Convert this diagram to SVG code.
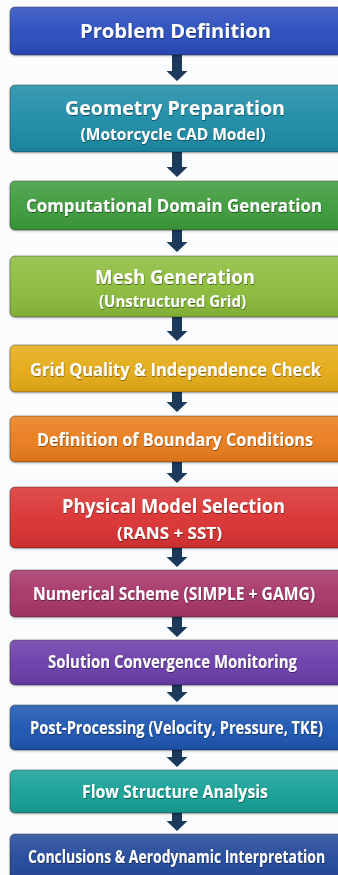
<svg xmlns="http://www.w3.org/2000/svg" width="338" height="875" viewBox="0 0 338 875">
  <defs>
    <linearGradient id="gloss" x1="0" y1="0" x2="0" y2="1">
      <stop offset="0" stop-color="#ffffff" stop-opacity="0.14"/>
      <stop offset="0.5" stop-color="#ffffff" stop-opacity="0.04"/>
      <stop offset="1" stop-color="#000000" stop-opacity="0.08"/>
    </linearGradient>
    <filter id="txtShadow" x="-5%" y="-30%" width="110%" height="160%">
      <feDropShadow dx="0.6" dy="1" stdDeviation="0.7" flood-color="#000000" flood-opacity="0.45"/>
    </filter>
    <filter id="boxShadow" x="-5%" y="-20%" width="110%" height="150%">
      <feDropShadow dx="0" dy="1" stdDeviation="0.8" flood-color="#000000" flood-opacity="0.25"/>
    </filter>
  </defs>
  <style>
    .bg { fill: #fbfcfd; }
    .box { stroke: #000000; stroke-opacity: 0.35; stroke-width: 1; filter: url(#boxShadow); }
    .sheen { fill: url(#gloss); }
    text { font-family: "Open Sans", "Liberation Sans", sans-serif; font-weight: 700; fill: #ffffff; text-anchor: middle; filter: url(#txtShadow); }
    .t1 { font-size: 19.5px; }
    .t2 { font-size: 17.5px; }
    .sub { font-size: 16px; }
    .arrow { fill: #1b3a5c; }
  </style>

  <rect class="bg" x="0" y="0" width="338" height="875"/>

  <!-- connectors -->
  <g id="connectors">
    <path class="arrow" d="M172 55 H182 V71 H187.5 L177 81 L166.5 71 H172 Z"/>
    <path class="arrow" d="M172 152 H182 V167 H187.5 L177 177 L166.5 167 H172 Z"/>
    <path class="arrow" d="M172 230 H182 V242 H187.5 L177 252 L166.5 242 H172 Z"/>
    <path class="arrow" d="M172 317 H182 V331 H187.5 L177 341 L166.5 331 H172 Z"/>
    <path class="arrow" d="M172 392 H182 V402 H187.5 L177 412 L166.5 402 H172 Z"/>
    <path class="arrow" d="M172 462 H182 V473 H187.5 L177 483 L166.5 473 H172 Z"/>
    <path class="arrow" d="M172 548 H182 V557 H187.5 L177 567 L166.5 557 H172 Z"/>
    <path class="arrow" d="M172 617 H182 V627 H187.5 L177 637 L166.5 627 H172 Z"/>
    <path class="arrow" d="M172 685 H182 V692 H187.5 L177 702 L166.5 692 H172 Z"/>
    <path class="arrow" d="M172 750 H182 V757 H187.5 L177 767 L166.5 757 H172 Z"/>
    <path class="arrow" d="M172 813 H182 V821 H187.5 L177 831 L166.5 821 H172 Z"/>
  </g>

  <!-- labels are drawn at 78% horizontal scale for a condensed face -->
  <g id="problem-definition">
    <rect class="box" x="10" y="7" width="334" height="48" rx="5" fill="#2a4dbd"/>
    <rect class="sheen" x="10" y="7" width="334" height="48" rx="5"/>
    <g transform="translate(175.5 38) scale(0.78 1)"><text class="t1" x="0" y="0" textLength="245" lengthAdjust="spacingAndGlyphs">Problem Definition</text></g>
  </g>

  <g id="geometry-preparation">
    <rect class="box" x="10" y="85" width="334" height="67" rx="5" fill="#1a8ca6"/>
    <rect class="sheen" x="10" y="85" width="334" height="67" rx="5"/>
    <g transform="translate(175 115) scale(0.78 1)"><text class="t1" x="0" y="0" textLength="282" lengthAdjust="spacingAndGlyphs">Geometry Preparation</text></g>
    <g transform="translate(173 139.5) scale(0.78 1)"><text class="sub" x="0" y="0" textLength="237" lengthAdjust="spacingAndGlyphs">(Motorcycle CAD Model)</text></g>
  </g>

  <g id="computational-domain">
    <rect class="box" x="10" y="181" width="334" height="49" rx="5" fill="#3d9b3b"/>
    <rect class="sheen" x="10" y="181" width="334" height="49" rx="5"/>
    <g transform="translate(174 212) scale(0.78 1)"><text class="t2" x="0" y="0" textLength="379.5" lengthAdjust="spacingAndGlyphs">Computational Domain Generation</text></g>
  </g>

  <g id="mesh-generation">
    <rect class="box" x="10" y="256" width="334" height="61" rx="5" fill="#8bbb3b"/>
    <rect class="sheen" x="10" y="256" width="334" height="61" rx="5"/>
    <g transform="translate(175 283.5) scale(0.78 1)"><text class="t1" x="0" y="0" textLength="205" lengthAdjust="spacingAndGlyphs">Mesh Generation</text></g>
    <g transform="translate(172.5 306.5) scale(0.78 1)"><text class="sub" x="0" y="0" textLength="188.5" lengthAdjust="spacingAndGlyphs">(Unstructured Grid)</text></g>
  </g>

  <g id="grid-quality">
    <rect class="box" x="10" y="345" width="334" height="47" rx="5" fill="#e5ab14"/>
    <rect class="sheen" x="10" y="345" width="334" height="47" rx="5"/>
    <g transform="translate(175.5 375.5) scale(0.78 1)"><text class="t2" x="0" y="0" textLength="373" lengthAdjust="spacingAndGlyphs">Grid Quality &amp; Independence Check</text></g>
  </g>

  <g id="boundary-conditions">
    <rect class="box" x="10" y="416" width="334" height="46" rx="5" fill="#e97b1b"/>
    <rect class="sheen" x="10" y="416" width="334" height="46" rx="5"/>
    <g transform="translate(175 446) scale(0.78 1)"><text class="t2" x="0" y="0" textLength="354" lengthAdjust="spacingAndGlyphs">Definition of Boundary Conditions</text></g>
  </g>

  <g id="physical-model">
    <rect class="box" x="10" y="487" width="334" height="61" rx="5" fill="#da3131"/>
    <rect class="sheen" x="10" y="487" width="334" height="61" rx="5"/>
    <g transform="translate(173.5 513) scale(0.78 1)"><text class="t1" x="0" y="0" textLength="286" lengthAdjust="spacingAndGlyphs">Physical Model Selection</text></g>
    <g transform="translate(169.5 538.5) scale(0.78 1)"><text class="sub" x="0" y="0" textLength="134.5" lengthAdjust="spacingAndGlyphs">(RANS + SST)</text></g>
  </g>

  <g id="numerical-scheme">
    <rect class="box" x="10" y="570" width="334" height="47" rx="5" fill="#a63668"/>
    <rect class="sheen" x="10" y="570" width="334" height="47" rx="5"/>
    <g transform="translate(174 599.5) scale(0.78 1)"><text class="t2" x="0" y="0" textLength="361.5" lengthAdjust="spacingAndGlyphs">Numerical Scheme (SIMPLE + GAMG)</text></g>
  </g>

  <g id="convergence-monitoring">
    <rect class="box" x="10" y="640" width="334" height="45" rx="5" fill="#6a3ca9"/>
    <rect class="sheen" x="10" y="640" width="334" height="45" rx="5"/>
    <g transform="translate(172.5 668) scale(0.78 1)"><text class="t2" x="0" y="0" textLength="319" lengthAdjust="spacingAndGlyphs">Solution Convergence Monitoring</text></g>
  </g>

  <g id="post-processing">
    <rect class="box" x="10" y="705" width="334" height="45" rx="5" fill="#1f55b0"/>
    <rect class="sheen" x="10" y="705" width="334" height="45" rx="5"/>
    <g transform="translate(176.5 733.5) scale(0.78 1)"><text class="t2" x="0" y="0" textLength="375.5" lengthAdjust="spacingAndGlyphs">Post-Processing (Velocity, Pressure, TKE)</text></g>
  </g>

  <g id="flow-structure">
    <rect class="box" x="10" y="770" width="334" height="43" rx="5" fill="#18a096"/>
    <rect class="sheen" x="10" y="770" width="334" height="43" rx="5"/>
    <g transform="translate(175 798) scale(0.78 1)"><text class="t2" x="0" y="0" textLength="238.5" lengthAdjust="spacingAndGlyphs">Flow Structure Analysis</text></g>
  </g>

  <g id="conclusions">
    <rect class="box" x="10" y="834" width="334" height="50" rx="5" fill="#24479a"/>
    <rect class="sheen" x="10" y="834" width="334" height="50" rx="5"/>
    <g transform="translate(176.5 862.5) scale(0.78 1)"><text class="t2" x="0" y="0" textLength="381" lengthAdjust="spacingAndGlyphs">Conclusions &amp; Aerodynamic Interpretation</text></g>
  </g>
</svg>
